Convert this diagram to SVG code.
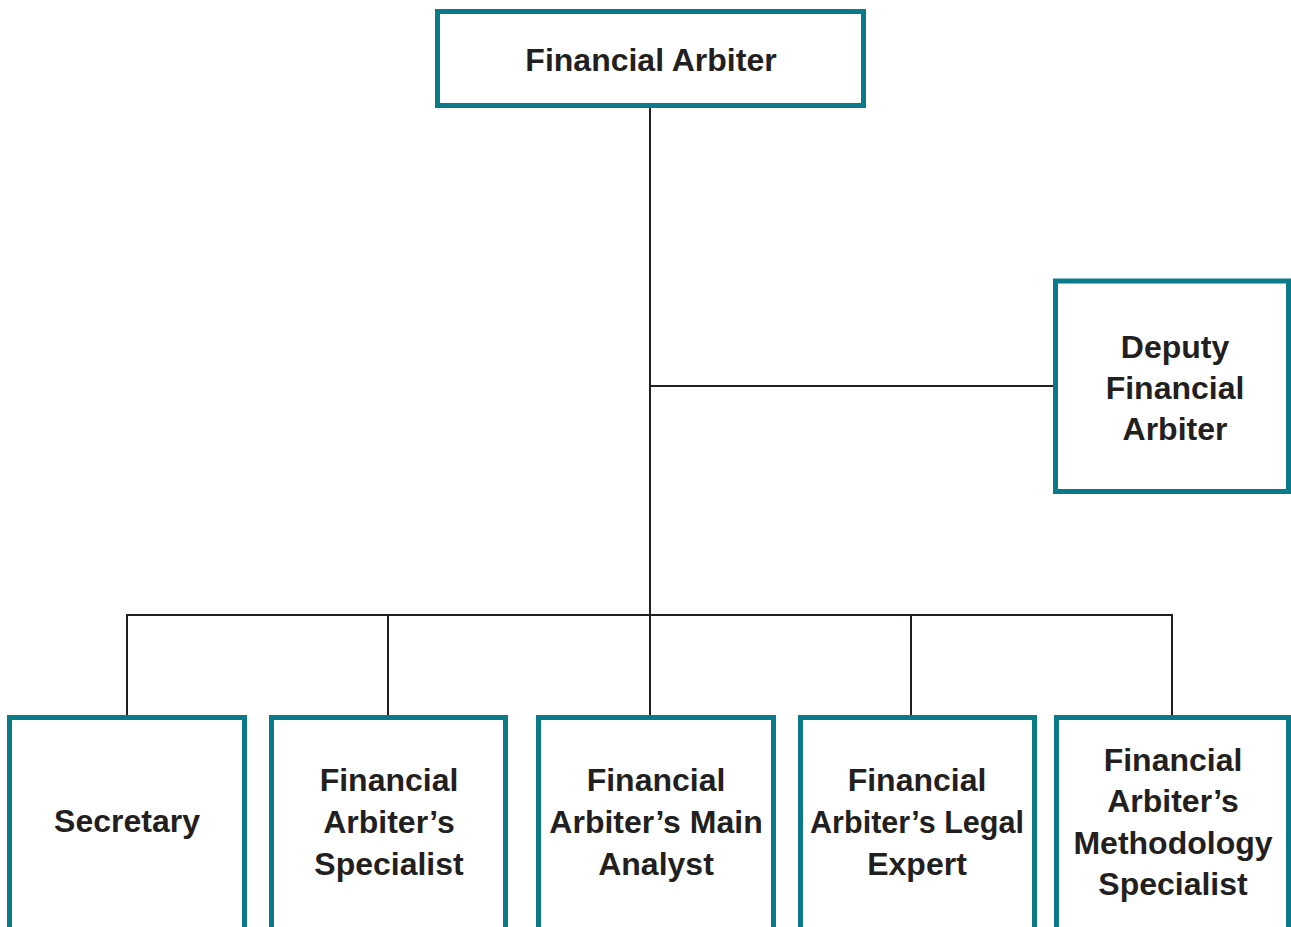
<svg xmlns="http://www.w3.org/2000/svg" width="1291" height="927" viewBox="0 0 1291 927">
<style>
.box{fill:#fff;stroke:#0b7a88;stroke-width:5}
.lbl{font-family:"Liberation Sans",Arial,sans-serif;font-weight:bold;font-size:32px;fill:#231f20;text-anchor:middle}
.con{stroke:#231f20;stroke-width:2;fill:none}
</style>
<rect width="1291" height="927" fill="#fff"/>
<g id="connectors">
<line class="con" x1="650" y1="106" x2="650" y2="615"/>
<line class="con" x1="650" y1="386" x2="1054" y2="386"/>
<line class="con" x1="126" y1="615" x2="1173" y2="615"/>
<line class="con" x1="127" y1="615" x2="127" y2="716"/>
<line class="con" x1="388" y1="615" x2="388" y2="716"/>
<line class="con" x1="650" y1="615" x2="650" y2="716"/>
<line class="con" x1="911" y1="615" x2="911" y2="716"/>
<line class="con" x1="1172" y1="615" x2="1172" y2="716"/>
</g>
<g id="financial-arbiter">
<rect class="box" x="437.5" y="11.5" width="426" height="94"/>
<text class="lbl" x="651" y="71">Financial Arbiter</text>
</g>
<g id="deputy">
<rect class="box" x="1055.5" y="281" width="233" height="210.5"/>
<text class="lbl" x="1175" y="358">Deputy</text>
<text class="lbl" x="1175" y="399">Financial</text>
<text class="lbl" x="1175" y="440">Arbiter</text>
</g>
<g id="secretary">
<rect class="box" x="9.5" y="717.5" width="235" height="220"/>
<text class="lbl" x="127" y="832">Secretary</text>
</g>
<g id="specialist">
<rect class="box" x="271.5" y="717.5" width="234" height="220"/>
<text class="lbl" x="389" y="791">Financial</text>
<text class="lbl" x="389" y="833">Arbiter’s</text>
<text class="lbl" x="389" y="875">Specialist</text>
</g>
<g id="main-analyst">
<rect class="box" x="538.5" y="717.5" width="235" height="220"/>
<text class="lbl" x="656" y="791">Financial</text>
<text class="lbl" x="656" y="833">Arbiter’s Main</text>
<text class="lbl" x="656" y="875">Analyst</text>
</g>
<g id="legal-expert">
<rect class="box" x="800.5" y="717.5" width="234" height="220"/>
<text class="lbl" x="917" y="791">Financial</text>
<text class="lbl" x="917" y="833" textLength="214" lengthAdjust="spacingAndGlyphs">Arbiter’s Legal</text>
<text class="lbl" x="917" y="875">Expert</text>
</g>
<g id="methodology-specialist">
<rect class="box" x="1056.5" y="717.5" width="232" height="220"/>
<text class="lbl" x="1173" y="771">Financial</text>
<text class="lbl" x="1173" y="812">Arbiter’s</text>
<text class="lbl" x="1173" y="854">Methodology</text>
<text class="lbl" x="1173" y="895">Specialist</text>
</g>
</svg>
